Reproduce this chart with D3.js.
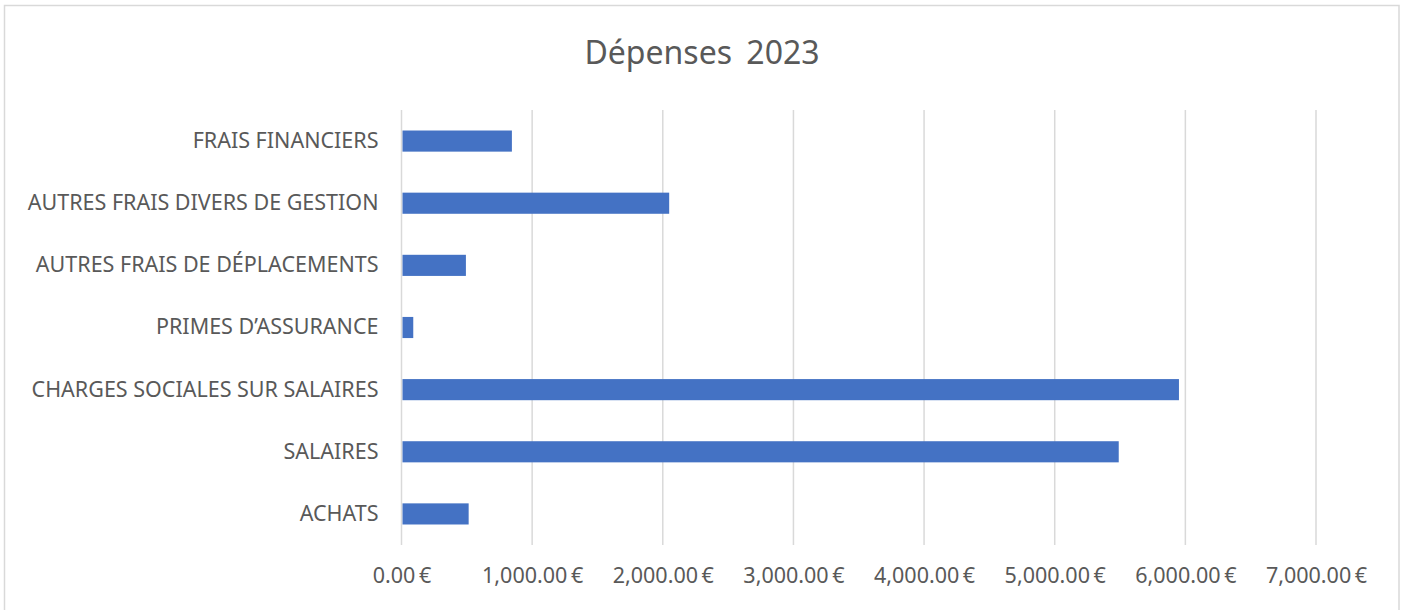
<!DOCTYPE html>
<html><head><meta charset="utf-8">
<script src="https://cdn.jsdelivr.net/npm/d3@7"></script>
<style>body{margin:0;background:#fff}svg{display:block}</style>
</head><body>
<svg id="c" width="1406" height="610"></svg>
<script>
const title = "Dépenses 2023";
const categories = ["FRAIS FINANCIERS","AUTRES FRAIS DIVERS DE GESTION","AUTRES FRAIS DE DÉPLACEMENTS","PRIMES D’ASSURANCE","CHARGES SOCIALES SUR SALAIRES","SALAIRES","ACHATS"];
const values = [845, 2049, 493, 90, 5951, 5490, 514];
const ticks = [0,1000,2000,3000,4000,5000,6000,7000];

const svg = d3.select("#c");
const font = "'Segoe UI','Noto Sans',sans-serif";
svg.append("rect").attr("x",4.5).attr("y",5.5).attr("width",1394.5).attr("height",620)
  .attr("fill","#fff").attr("stroke","#d9d9d9").attr("stroke-width",1.5);

const x = d3.scaleLinear().domain([0,7000]).range([401.5,1316]);
const y = d3.scaleBand().domain(categories).range([110,545]).paddingInner(0.66).paddingOuter(0.33);

svg.append("text").attr("x",702).attr("y",64).attr("text-anchor","middle")
  .attr("font-family",font).attr("font-size",32).attr("fill","#595959")
  .attr("word-spacing",6).text(title);

const g = svg.append("g");
g.selectAll("line.grid").data(ticks).join("line").attr("class","grid")
  .attr("x1",d=>x(d)).attr("x2",d=>x(d)).attr("y1",110).attr("y2",545)
  .attr("stroke","#d9d9d9").attr("stroke-width",1.5);

g.selectAll("rect.bar").data(values).join("rect").attr("class","bar")
  .attr("x",x(0)+1).attr("y",(d,i)=>y(categories[i]))
  .attr("width",d=>x(d)-x(0)-1).attr("height",y.bandwidth()).attr("fill","#4472C4");

const fmt = d3.format(",.2f");
const xAxis = d3.axisBottom(x).tickValues(ticks).tickSize(0).tickPadding(0).tickFormat(d=>fmt(d)+"\u2009€");
const ax = svg.append("g").attr("transform","translate(0,564)").call(xAxis);
ax.select(".domain").remove();
ax.selectAll("text").attr("font-family",font).attr("font-size",21.5).attr("fill","#595959").attr("dy","0.9em");

const yAxis = d3.axisLeft(y).tickSize(0).tickPadding(23);
const ay = svg.append("g").attr("transform","translate(401.5,0)").call(yAxis);
ay.select(".domain").remove();
ay.selectAll("text").attr("font-family",font).attr("font-size",21.5).attr("fill","#595959");
</script>
</body></html>
